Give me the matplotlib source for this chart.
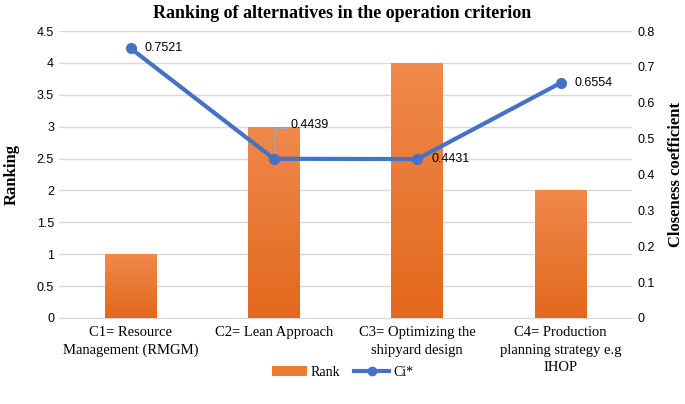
import matplotlib
matplotlib.use("Agg")
import matplotlib.pyplot as plt
import numpy as np
from matplotlib.colors import LinearSegmentedColormap
from matplotlib.patches import Patch
from matplotlib.lines import Line2D

# data
categories = ['C1= Resource\nManagement (RMGM)', 'C2= Lean Approach',
              'C3= Optimizing the\nshipyard design',
              'C4= Production\nplanning strategy e.g\nIHOP']
rank = [1, 3, 4, 2]
ci = [0.7521, 0.4439, 0.4431, 0.6554]
ci_labels = ['0.7521', '0.4439', '0.4431', '0.6554']

serif = 'Liberation Serif'
sans = 'Liberation Sans'

fig = plt.figure(figsize=(6.85, 4.04), dpi=100)
ax = fig.add_axes([0.086, 0.213, 0.837, 0.71])
ax2 = ax.twinx()

x = np.arange(len(categories))
bars = ax.bar(x, rank, width=0.36, color='#ED7D31', zorder=2)

# gradient fill on bars (lighter top, darker bottom)
cmap = LinearSegmentedColormap.from_list('org', ['#E2681C', '#F0894C'])
grad = np.linspace(0, 1, 256).reshape(-1, 1)
for b in bars:
    bx, by = b.get_x(), b.get_y()
    w, h = b.get_width(), b.get_height()
    im = ax.imshow(grad, cmap=cmap, aspect='auto', origin='lower',
                   extent=[bx, bx + w, by, by + h], zorder=3)
    im.set_clip_path(b)

ax.set_xlim(-0.5, 3.5)
ax.set_ylim(0, 4.5)
ax.set_yticks(np.arange(0, 4.51, 0.5))
ax.set_yticklabels(['0', '0.5', '1', '1.5', '2', '2.5', '3', '3.5', '4', '4.5'])
ax.grid(axis='y', color='#D9D9D9', linewidth=1, zorder=0)
ax.set_axisbelow(True)

ax2.set_ylim(0, 0.8)
ax2.set_yticks(np.arange(0, 0.81, 0.1))
ax2.set_yticklabels(['0', '0.1', '0.2', '0.3', '0.4', '0.5', '0.6', '0.7', '0.8'])
ax2.plot(x, ci, color='#4472C4', linewidth=3, marker='o', markersize=7,
         zorder=5)

# data labels
ax2.annotate(ci_labels[0], (x[0], ci[0]), xytext=(10, 0), textcoords='offset points',
             va='center', ha='left', fontsize=9, family=sans)
ax2.annotate(ci_labels[1], (x[1], ci[1]), xytext=(12, 24), textcoords='offset points',
             va='center', ha='left', fontsize=9, family=sans)
ax2.plot([x[1], x[1], x[1] + 0.09], [ci[1], ci[1] + 0.085, ci[1] + 0.085],
         color='#A6A6A6', linewidth=0.8, zorder=4)
ax2.annotate(ci_labels[2], (x[2], ci[2]), xytext=(10, 0), textcoords='offset points',
             va='center', ha='left', fontsize=9, family=sans)
ax2.annotate(ci_labels[3], (x[3], ci[3]), xytext=(10, 0), textcoords='offset points',
             va='center', ha='left', fontsize=9, family=sans)

for a in (ax, ax2):
    for s in a.spines.values():
        s.set_visible(False)
    a.tick_params(length=0, labelsize=9, colors='#000000')
    for lab in a.get_yticklabels():
        lab.set_family(sans)
ax.spines['bottom'].set_visible(True)
ax.spines['bottom'].set_color('#D9D9D9')

ax.set_xticks(x)
ax.set_xticklabels(categories, family=serif, fontsize=10.5)
for lab in ax.get_xticklabels():
    lab.set_linespacing(1.45)
ax.tick_params(axis='x', pad=6)

ax.set_ylabel('Ranking', family=serif, fontsize=12, fontweight='bold', labelpad=12)
ax2.set_ylabel('Closeness coefficient', family=serif, fontsize=12,
               fontweight='bold', labelpad=10)
fig.suptitle('Ranking of alternatives in the operation criterion', family=serif,
             fontsize=13, fontweight='bold', y=0.988)

handles = [Patch(facecolor='#ED7D31'),
           Line2D([0], [0], color='#4472C4', linewidth=3, marker='o', markersize=6)]
fig.legend(handles, ['Rank', 'Ci*'], loc='center', bbox_to_anchor=(0.5, 0.078),
           ncol=2, frameon=False, prop={'family': serif, 'size': 10},
           handlelength=2.5, columnspacing=1.0, handletextpad=0.3)

fig.savefig('out.png', dpi=100)
